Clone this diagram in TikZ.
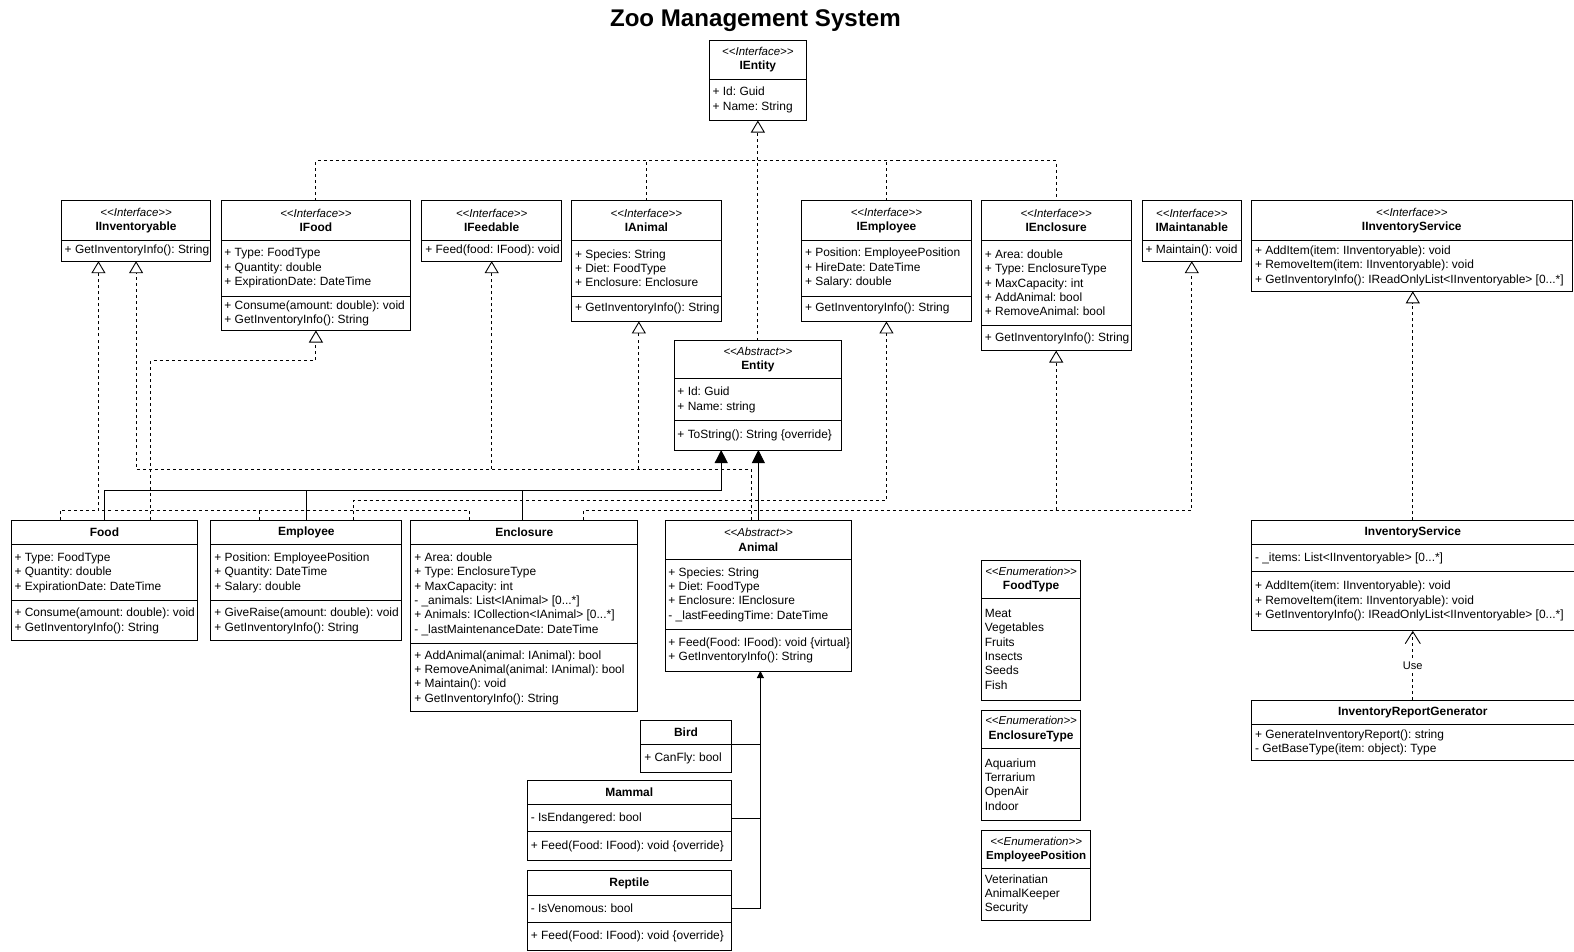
\documentclass[tikz,border=0pt]{standalone}
\usepackage{fontspec}
\setmainfont{Liberation Sans}[Ligatures=TeXOff]
\usepackage{tikz}
\usetikzlibrary{calc}
\usetikzlibrary{arrows.meta}

\newcommand{\uml}{\fontsize{11.9}{14.3}\selectfont}
\newcommand{\stereo}[1]{{\itshape\fontsize{11.4}{14.3}\selectfont <<#1>>}}
\frenchspacing

\begin{document}
\begin{tikzpicture}[x=1pt,y=-1pt,line width=0.9pt,
  hd/.style={draw,anchor=north west,align=center,inner sep=0pt,outer sep=0pt,font=\uml},
  cp/.style={draw,anchor=north west,inner sep=0pt,outer sep=0pt},
  txt/.style={anchor=west,align=left,inner xsep=3pt,inner ysep=0pt,font=\uml},
  dsh/.style={dash pattern=on 3pt off 3pt},
  real/.style={dsh,-{Triangle[open,length=12pt,width=14pt]}},
  inh/.style={-{Triangle[length=13pt,width=13pt]}},
  inhs/.style={-{Triangle[length=7pt,width=7pt]}},
  uses/.style={dsh,-{Straight Barb[length=12pt,width=15pt]}}]

\useasboundingbox (0,0) rectangle (1567,947);

\node[font=\bfseries\fontsize{24}{28}\selectfont] (title) at (752,21) {Zoo Management System};

% interfaces
\node[hd,minimum width=97,minimum height=39] (ientity) at (706,40) {\stereo{Interface}\\\textbf{IEntity}};
\node[cp,minimum width=97,minimum height=41,label={[txt]west:{+ Id: Guid\\+ Name: String}}] (ientity-a) at (ientity.south west) {};

\node[hd,minimum width=149,minimum height=39] (iinv) at (61,200) {\stereo{Interface}\\\textbf{IInventoryable}};
\node[cp,minimum width=149,minimum height=21,label={[txt]west:{+ GetInventoryInfo(): String}}] (iinv-m) at (iinv.south west) {};

\node[hd,minimum width=189,minimum height=39] (ifood) at (220,200) {\stereo{Interface}\\\textbf{IFood}};
\node[cp,minimum width=189,minimum height=56,label={[txt]west:{+ Type: FoodType\\+ Quantity: double\\+ ExpirationDate: DateTime}}] (ifood-a) at (ifood.south west) {};
\node[cp,minimum width=189,minimum height=34,label={[txt]west:{+ Consume(amount: double): void\\+ GetInventoryInfo(): String}}] (ifood-m) at (ifood-a.south west) {};

\node[hd,minimum width=139,minimum height=39] (ifeed) at (420,200) {\stereo{Interface}\\\textbf{IFeedable}};
\node[cp,minimum width=139,minimum height=21,label={[txt]west:{+ Feed(food: IFood): void}}] (ifeed-m) at (ifeed.south west) {};

\node[hd,minimum width=149,minimum height=39] (ianimal) at (569,200) {\stereo{Interface}\\\textbf{IAnimal}};
\node[cp,minimum width=149,minimum height=56,label={[txt]west:{+ Species: String\\+ Diet: FoodType\\+ Enclosure: Enclosure}}] (ianimal-a) at (ianimal.south west) {};
\node[cp,minimum width=149,minimum height=25,label={[txt]west:{+ GetInventoryInfo(): String}}] (ianimal-m) at (ianimal-a.south west) {};

\node[hd,minimum width=169,minimum height=39] (iemp) at (798,200) {\stereo{Interface}\\\textbf{IEmployee}};
\node[cp,minimum width=169,minimum height=56,label={[txt]west:{+ Position: EmployeePosition\\+ HireDate: DateTime\\+ Salary: double}}] (iemp-a) at (iemp.south west) {};
\node[cp,minimum width=169,minimum height=25,label={[txt]west:{+ GetInventoryInfo(): String}}] (iemp-m) at (iemp-a.south west) {};

\node[hd,minimum width=149,minimum height=39] (iencl) at (977,200) {\stereo{Interface}\\\textbf{IEnclosure}};
\node[cp,minimum width=149,minimum height=85,label={[txt]west:{+ Area: double\\+ Type: EnclosureType\\+ MaxCapacity: int\\+ AddAnimal: bool\\+ RemoveAnimal: bool}}] (iencl-a) at (iencl.south west) {};
\node[cp,minimum width=149,minimum height=25,label={[txt]west:{+ GetInventoryInfo(): String}}] (iencl-m) at (iencl-a.south west) {};

\node[hd,minimum width=99,minimum height=39] (imaint) at (1137,200) {\stereo{Interface}\\\textbf{IMaintanable}};
\node[cp,minimum width=99,minimum height=21,label={[txt]west:{+ Maintain(): void}}] (imaint-m) at (imaint.south west) {};

\node[hd,minimum width=319,minimum height=39] (iinvsvc) at (1246,200) {\stereo{Interface}\\\textbf{IInventoryService}};
\node[cp,minimum width=319,minimum height=51,label={[txt]west:{+ AddItem(item: IInventoryable): void\\+ RemoveItem(item: IInventoryable): void\\+ GetInventoryInfo(): IReadOnlyList<IInventoryable> [0...*]}}] (iinvsvc-m) at (iinvsvc.south west) {};

% abstract base
\node[hd,minimum width=167,minimum height=38] (entity) at (671,339) {\stereo{Abstract}\\\textbf{Entity}};
\node[cp,minimum width=167,minimum height=42,label={[txt]west:{+ Id: Guid\\+ Name: string}}] (entity-a) at (entity.south west) {};
\node[cp,minimum width=167,minimum height=29,label={[txt]west:{+ ToString(): String \{override\}}}] (entity-m) at (entity-a.south west) {};

% classes
\node[hd,minimum width=186,minimum height=24] (food) at (11,518) {\textbf{Food}};
\node[cp,minimum width=186,minimum height=56,label={[txt]west:{+ Type: FoodType\\+ Quantity: double\\+ ExpirationDate: DateTime}}] (food-a) at (food.south west) {};
\node[cp,minimum width=186,minimum height=40,label={[txt]west:{+ Consume(amount: double): void\\+ GetInventoryInfo(): String}}] (food-m) at (food-a.south west) {};

\node[hd,minimum width=190,minimum height=24] (emp) at (210,518) {\textbf{Employee}};
\node[cp,minimum width=190,minimum height=56,label={[txt]west:{+ Position: EmployeePosition\\+ Quantity: DateTime\\+ Salary: double}}] (emp-a) at (emp.south west) {};
\node[cp,minimum width=190,minimum height=40,label={[txt]west:{+ GiveRaise(amount: double): void\\+ GetInventoryInfo(): String}}] (emp-m) at (emp-a.south west) {};

\node[hd,minimum width=226,minimum height=24] (encl) at (409,518) {\textbf{Enclosure}};
\node[cp,minimum width=226,minimum height=99,label={[txt]west:{+ Area: double\\+ Type: EnclosureType\\+ MaxCapacity: int\\- \_animals: List<IAnimal> [0...*]\\+ Animals: ICollection<IAnimal> [0...*]\\- \_lastMaintenanceDate: DateTime}}] (encl-a) at (encl.south west) {};
\node[cp,minimum width=226,minimum height=67,label={[txt]west:{+ AddAnimal(animal: IAnimal): bool\\+ RemoveAnimal(animal: IAnimal): bool\\+ Maintain(): void\\+ GetInventoryInfo(): String}}] (encl-m) at (encl-a.south west) {};

\node[hd,minimum width=186,minimum height=39] (animal) at (662,518) {\stereo{Abstract}\\\textbf{Animal}};
\node[cp,minimum width=186,minimum height=70,label={[txt]west:{+ Species: String\\+ Diet: FoodType\\+ Enclosure: IEnclosure\\- \_lastFeedingTime: DateTime}}] (animal-a) at (animal.south west) {};
\node[cp,minimum width=186,minimum height=41,label={[txt]west:{+ Feed(Food: IFood): void \{virtual\}\\+ GetInventoryInfo(): String}}] (animal-m) at (animal-a.south west) {};

\node[hd,minimum width=90,minimum height=24] (bird) at (638,717) {\textbf{Bird}};
\node[cp,minimum width=90,minimum height=28,label={[txt]west:{+ CanFly: bool}}] (bird-a) at (bird.south west) {};

\node[hd,minimum width=203,minimum height=24] (mammal) at (525,777) {\textbf{Mammal}};
\node[cp,minimum width=203,minimum height=27,label={[txt]west:{- IsEndangered: bool}}] (mammal-a) at (mammal.south west) {};
\node[cp,minimum width=203,minimum height=29,label={[txt]west:{+ Feed(Food: IFood): void \{override\}}}] (mammal-m) at (mammal-a.south west) {};

\node[hd,minimum width=203,minimum height=24] (reptile) at (525,867) {\textbf{Reptile}};
\node[cp,minimum width=203,minimum height=27,label={[txt]west:{- IsVenomous: bool}}] (reptile-a) at (reptile.south west) {};
\node[cp,minimum width=203,minimum height=28,label={[txt]west:{+ Feed(Food: IFood): void \{override\}}}] (reptile-m) at (reptile-a.south west) {};

% enumerations
\node[hd,minimum width=99,minimum height=38] (foodtype) at (977,558) {\stereo{Enumeration}\\\textbf{FoodType}};
\node[cp,minimum width=99,minimum height=101,label={[txt]west:{Meat\\Vegetables\\Fruits\\Insects\\Seeds\\Fish}}] (foodtype-a) at (foodtype.south west) {};

\node[hd,minimum width=99,minimum height=38] (encltype) at (977,707) {\stereo{Enumeration}\\\textbf{EnclosureType}};
\node[cp,minimum width=99,minimum height=72,label={[txt]west:{Aquarium\\Terrarium\\OpenAir\\Indoor}}] (encltype-a) at (encltype.south west) {};

\node[hd,minimum width=109,minimum height=38] (emppos) at (977,827) {\stereo{Enumeration}\\\textbf{\fontsize{11.5}{14.3}\selectfont EmployeePosition}};
\node[cp,minimum width=109,minimum height=51,label={[txt]west:{Veterinatian\\AnimalKeeper\\Security}}] (emppos-a) at (emppos.south west) {};

% inventory
\node[hd,minimum width=321,minimum height=24] (invsvc) at (1246,518) {\textbf{InventoryService}};
\node[cp,minimum width=321,minimum height=27,label={[txt]west:{- \_items: List<IInventoryable> [0...*]}}] (invsvc-a) at (invsvc.south west) {};
\node[cp,minimum width=321,minimum height=59,label={[txt]west:{+ AddItem(item: IInventoryable): void\\+ RemoveItem(item: IInventoryable): void\\+ GetInventoryInfo(): IReadOnlyList<IInventoryable> [0...*]}}] (invsvc-m) at (invsvc-a.south west) {};

\node[hd,minimum width=321,minimum height=24] (irg) at (1246,697) {\textbf{InventoryReportGenerator}};
\node[cp,minimum width=321,minimum height=36,label={[txt]west:{+ GenerateInventoryReport(): string\\- GetBaseType(item: object): Type}}] (irg-m) at (irg.south west) {};

% interfaces to IEntity
\draw[dsh] (ifood.north) -- ++(0,-40) -| (iencl.north);
\draw[dsh] (ianimal.north) -- ++(0,-40);
\draw[dsh] (iemp.north) -- ++(0,-40);
\draw[real] (entity.north) -- (ientity-a.south);

% IInventoryable
\draw[real] ($(encl.north west)+(58,0)$) -- ++(0,-10) -| ($(iinv-m.south west)+(37,0)$);
\draw[dsh] ($(food.north west)+(49,0)$) -- ++(0,-10) -- ++(38,0);
\draw[dsh] ($(emp.north west)+(48,0)$) -- ++(0,-10);
\draw[real] ($(animal.north west)+(86,0)$) -- ++(0,-51) -| (iinv-m.south);
\draw[real] ($(ifeed-m.south)+(0,207)$) -- (ifeed-m.south);
\draw[real] ($(ianimal-m.south)+(-7.5,147)$) -- ($(ianimal-m.south)+(-7.5,0)$);

\draw[real] ($(food.north west)+(139,0)$) -- ++(0,-159) -| (ifood-m.south);
\draw[real] ($(emp.north west)+(142,0)$) -- ++(0,-20) -| (iemp-m.south);
\draw[real] ($(encl.north west)+(172,0)$) -- ++(0,-10) -| (imaint-m.south);
\draw[real] ($(iencl-m.south)+(0,159)$) -- (iencl-m.south);

% inheritance
\draw[inh] ($(food.north west)+(93,0)$) -- ++(0,-30) -| ($(entity-m.south west)+(47,0)$);
\draw (emp.north) -- ++(0,-30);
\draw ($(encl.north west)+(111,0)$) -- ++(0,-30);
\draw[inh] (animal.north) -- (animal.north |- entity-m.south);

\draw[inhs] (reptile-a.east) -| ($(animal-m.south)+(2,0)$);
\draw (bird.south east) -- ++(29,0);
\draw (mammal-a.east) -- ++(29,0);

% inventory service
\draw[real] (invsvc.north) -- (invsvc.north |- iinvsvc-m.south);
\draw[uses] (irg.north) -- node[fill=white,inner sep=1pt,font=\fontsize{11}{13}\selectfont] (uselbl) {Use} (invsvc-m.south);

\end{tikzpicture}
\end{document}
